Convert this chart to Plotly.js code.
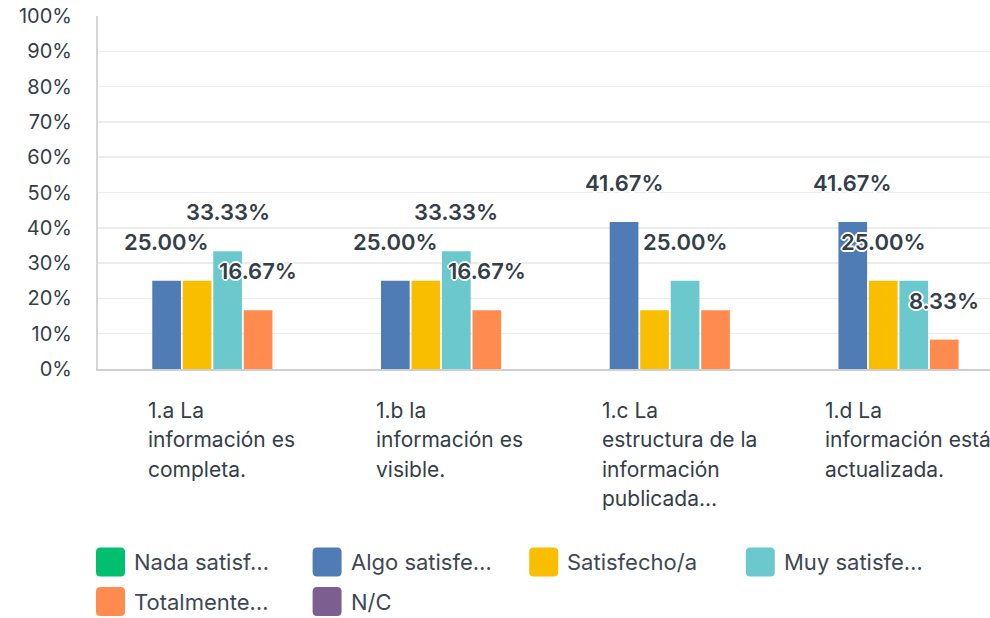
<!DOCTYPE html>
<html>
<head>
<meta charset="utf-8">
<script src="https://cdn.plot.ly/plotly-3.0.1.min.js"></script>
<style>html,body{margin:0;padding:0;background:#fff}#chart{width:990px;height:618px}</style>
</head>
<body>
<div id="chart"></div>
<script>
// ---- data ----
const categories = ["1.a La información es completa.", "1.b la información es visible.", "1.c La estructura de la información publicada...", "1.d La información está actualizada."];
const categoryLines = [
  ["1.a La", "información es", "completa."],
  ["1.b la", "información es", "visible."],
  ["1.c La", "estructura de la", "información", "publicada…"],
  ["1.d La", "información está", "actualizada."]
];
const seriesNames = ["Nada satisf…", "Algo satisfe…", "Satisfecho/a", "Muy satisfe…", "Totalmente…", "N/C"];
const nadaSatisfecho  = [0, 0, 0, 0];
const algoSatisfecho  = [25.00, 25.00, 41.67, 41.67];
const satisfecho      = [25.00, 25.00, 16.67, 25.00];
const muySatisfecho   = [33.33, 33.33, 25.00, 25.00];
const totalmente      = [16.67, 16.67, 16.67, 8.33];
const noContesta      = [0, 0, 0, 0];
// which value labels are displayed (others hidden in the original because they overlap)
const showNada  = [0, 0, 0, 0];
const showAlgo  = [1, 1, 1, 1];
const showSat   = [0, 0, 0, 1];
const showMuy   = [1, 1, 1, 0];
const showTot   = [1, 1, 0, 1];
const showNC    = [0, 0, 0, 0];
const yTicks = [0, 10, 20, 30, 40, 50, 60, 70, 80, 90, 100];
const yTickLabels = ["0%", "10%", "20%", "30%", "40%", "50%", "60%", "70%", "80%", "90%", "100%"];

// ---- styles ----
const colors = ["#00bf6f", "#507cb6", "#f9be00", "#6bc8cd", "#ff8b4f", "#7d5e90"];
const seriesValues = [nadaSatisfecho, algoSatisfecho, satisfecho, muySatisfecho, totalmente, noContesta];
const seriesShow = [showNada, showAlgo, showSat, showMuy, showTot, showNC];
const BARGAP = 0.2;
const FONT = "Inter, 'Open Sans', sans-serif";
const TXT = "#333e48";
const xIdx = categories.map((_, i) => i);

const traces = seriesValues.map((vals, s) => ({
  type: "bar",
  name: seriesNames[s],
  x: xIdx,
  y: vals,
  marker: {color: colors[s]},
  hoverinfo: "skip",
  showlegend: false
}));

const annotations = [];
// value labels
const nS = seriesValues.length;
seriesValues.forEach((vals, s) => {
  vals.forEach((v, c) => {
    if (!seriesShow[s][c]) return;
    annotations.push({
      x: c + (s - (nS - 1) / 2) * (1 - BARGAP) / nS,
      y: v, xref: "x", yref: "y",
      text: v.toFixed(2) + "%",
      showarrow: false, yanchor: "middle", yshift: 39,
      font: {family: FONT, size: 22, weight: 600, color: TXT,
             shadow: "1px 1px 0 #fff, -1px -1px 0 #fff, 1px -1px 0 #fff, -1px 1px 0 #fff, 2px 0 0 #fff, -2px 0 0 #fff, 0 2px 0 #fff, 0 -2px 0 #fff"}
    });
  });
});
// category labels
const catShift = [-66.5, -67, -70, -75.5];
categoryLines.forEach((lines, i) => {
  lines.forEach((ln, k) => {
    annotations.push({
      x: i, xref: "x", xshift: catShift[i], xanchor: "left",
      y: 0, yref: "paper", yanchor: "middle", yshift: -(41 + 29.5 * k),
      text: ln, showarrow: false,
      font: {family: FONT, size: 21, color: TXT}
    });
  });
});
// custom legend
const PLOT_L = 98, PLOT_B = 369;
const shapes = [];
function rr(x0, y0, x1, y1, r) {
  return `M${x0 + r},${y0} L${x1 - r},${y0} Q${x1},${y0} ${x1},${y0 + r} L${x1},${y1 - r} Q${x1},${y1} ${x1 - r},${y1} L${x0 + r},${y1} Q${x0},${y1} ${x0},${y1 - r} L${x0},${y0 + r} Q${x0},${y0} ${x0 + r},${y0} Z`;
}
seriesNames.forEach((nm, s) => {
  const col = s % 4, row = Math.floor(s / 4);
  const lx = 96 + col * 216.6;
  const ly = 562 + row * 39.5;
  const cx = lx - PLOT_L, cy = PLOT_B - ly;
  shapes.push({
    type: "path", xref: "paper", yref: "paper",
    xsizemode: "pixel", ysizemode: "pixel", xanchor: 0, yanchor: 0,
    path: rr(cx, cy - 14.5, cx + 29, cy + 14.5, 4.5),
    fillcolor: colors[s], line: {width: 0}
  });
  annotations.push({
    x: 0, xref: "paper", xshift: cx + 36, xanchor: "left",
    y: 0, yref: "paper", yshift: cy, yanchor: "middle",
    text: nm, showarrow: false,
    font: {family: FONT, size: 22, color: "#3d4853"}
  });
});

const layout = {
  width: 990, height: 618,
  margin: {l: PLOT_L, r: 0, t: 16, b: 618 - PLOT_B},
  paper_bgcolor: "#fff", plot_bgcolor: "#fff",
  barmode: "group", bargap: BARGAP, bargroupgap: 0.06,
  showlegend: false,
  xaxis: {
    range: [-0.5, 3.4], showticklabels: false, showgrid: false, zeroline: false,
    showline: true, linecolor: "#cfcfcf", linewidth: 2, fixedrange: true
  },
  yaxis: {
    range: [0, 100], tickmode: "array", tickvals: yTicks, ticktext: yTickLabels,
    showgrid: true, gridcolor: "#ececec", gridwidth: 1.5, zeroline: false,
    showline: true, linecolor: "#d6d6d6", linewidth: 2,
    ticklabelstandoff: 20,
    tickfont: {family: FONT, size: 20, color: TXT}, fixedrange: true
  },
  annotations: annotations,
  shapes: shapes
};

Plotly.newPlot("chart", traces, layout, {displayModeBar: false, staticPlot: true});
</script>
</body>
</html>
